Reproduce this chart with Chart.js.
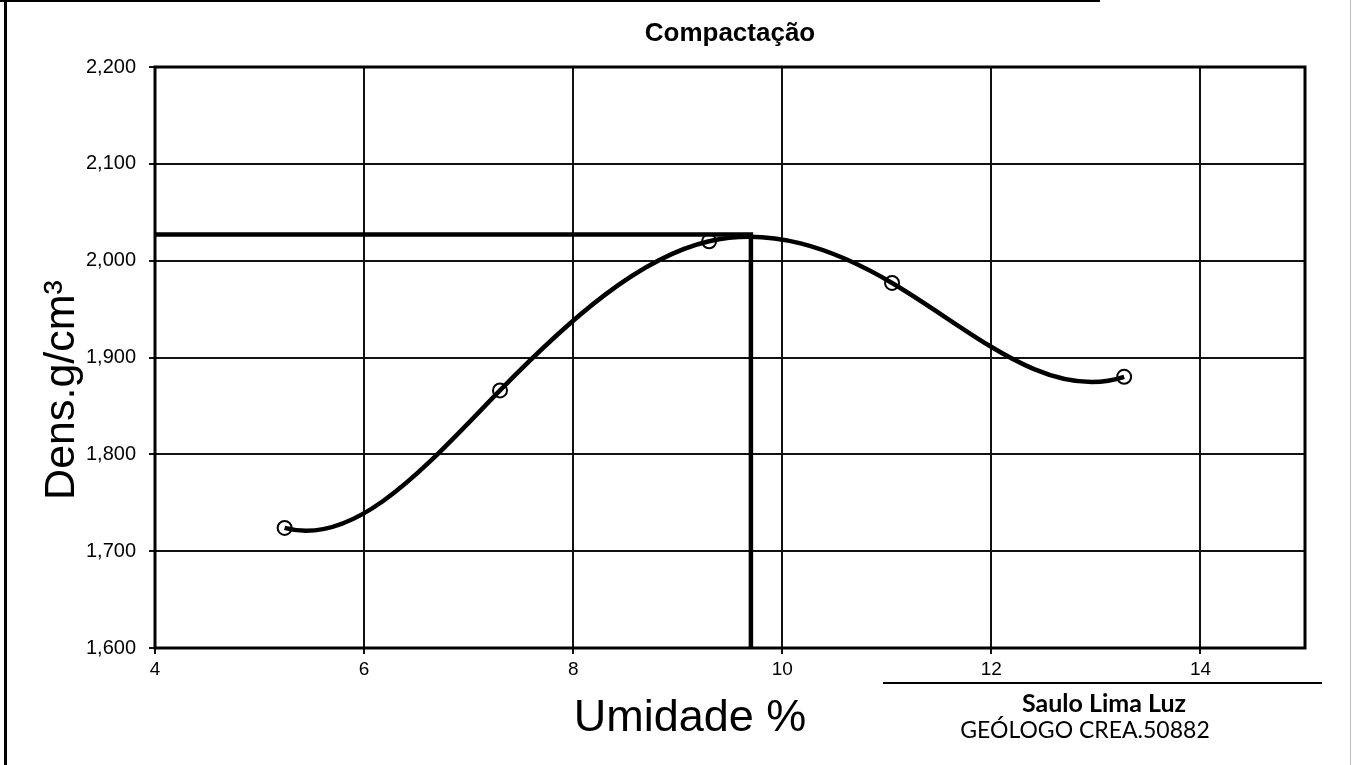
<!DOCTYPE html>
<html>
<head>
<meta charset="utf-8">
<script src="https://cdn.jsdelivr.net/npm/chart.js@4/dist/chart.umd.min.js"></script>
<style>
  html, body { margin: 0; padding: 0; background: #fff; }
  canvas { display: block; }
</style>
</head>
<body>
<canvas id="c" width="1352" height="765"></canvas>
<script>
// ---- data ----
const chartTitle = 'Compactação';
const xTitle = 'Umidade %';
const yTitle = 'Dens.g/cm³';
const signName = 'Saulo Lima Luz';
const signRole = 'GEÓLOGO CREA.50882';

const moisture = [5.24, 7.30, 9.30, 11.05, 13.27];      // Umidade %
const density  = [1.724, 1.866, 2.020, 1.977, 1.880];    // Dens. g/cm3

const optimumMoisture = 9.70;   // vertical marker
const maxDensity = 2.027;       // horizontal marker

const xMin = 4, xMax = 15, xStep = 2;
const yMin = 1.6, yMax = 2.2, yStep = 0.1;

const FONT = '"Liberation Sans", Arial, sans-serif';
const SIGN_FONT = 'Lato, "Open Sans", sans-serif';

const curvePoints = moisture.map((m, i) => ({ x: m, y: density[i] }));
const markerPoints = [
  { x: xMin, y: maxDensity },
  { x: optimumMoisture, y: maxDensity },
  { x: optimumMoisture, y: yMin }
];

// Smoothing: tangent at each data point taken from the polynomial that passes
// through all the points (like the spreadsheet's curve); Bezier handles set from it.
function newtonCoeffs(xs, ys) {
  const c = ys.slice(), n = xs.length;
  for (let j = 1; j < n; j++)
    for (let i = n - 1; i >= j; i--) c[i] = (c[i] - c[i - 1]) / (xs[i] - xs[i - j]);
  return c;
}
function polyEval(c, xs, x) {
  let r = c[c.length - 1];
  for (let i = c.length - 2; i >= 0; i--) r = r * (x - xs[i]) + c[i];
  return r;
}
function polySlope(c, xs, x) {
  const h = 1e-5;
  return (polyEval(c, xs, x + h) - polyEval(c, xs, x - h)) / (2 * h);
}

const smoothCurve = {
  id: 'smoothCurve',
  beforeDatasetDraw(chart, args) {
    if (args.index !== 0) return;
    const meta = args.meta;
    const line = meta.dataset;
    if (!line) return;
    line.updateControlPoints(chart.chartArea, 'x');
    const sx = chart.scales.x, sy = chart.scales.y;
    const pts = meta.data;
    const c = newtonCoeffs(moisture, density);
    const slopes = moisture.map(x => polySlope(c, moisture, x));
    const n = pts.length;
    for (let i = 0; i < n; i++) {
      if (i > 0) {
        const d = (moisture[i] - moisture[i - 1]) / 3;
        pts[i].cp1x = sx.getPixelForValue(moisture[i] - d);
        pts[i].cp1y = sy.getPixelForValue(density[i] - slopes[i] * d);
      }
      if (i < n - 1) {
        const d = (moisture[i + 1] - moisture[i]) / 3;
        pts[i].cp2x = sx.getPixelForValue(moisture[i] + d);
        pts[i].cp2y = sy.getPixelForValue(density[i] + slopes[i] * d);
      }
    }
    line._path = undefined;
  }
};

const decor = {
  id: 'decor',
  afterDraw(chart) {
    const { ctx, chartArea: a } = chart;
    ctx.save();
    // plot frame
    ctx.strokeStyle = '#000';
    ctx.lineWidth = 3;
    ctx.strokeRect(a.left, a.top, a.right - a.left, a.bottom - a.top);

    // page frame
    ctx.fillStyle = '#000';
    ctx.fillRect(4, 0, 3, 765);
    ctx.fillRect(0, 0, 1100, 2);
    ctx.fillStyle = '#bdbdbd';
    ctx.fillRect(1350, 0, 1, 765);

    ctx.fillStyle = '#000';
    ctx.textAlign = 'center';
    ctx.textBaseline = 'middle';
    // title
    ctx.font = 'bold 26px ' + FONT;
    ctx.fillText(chartTitle, (a.left + a.right) / 2, 34);

    // x title
    ctx.font = '45px ' + FONT;
    ctx.fillText(xTitle, 690, 719);

    // y title
    ctx.save();
    ctx.translate(62, 390);
    ctx.rotate(-Math.PI / 2);
    ctx.font = '43px ' + FONT;
    ctx.fillText(yTitle, 0, 0);
    ctx.restore();

    // signature
    ctx.fillRect(883, 682, 439, 2);
    ctx.font = 'bold 25px ' + SIGN_FONT;
    ctx.fillText(signName, 1104, 704);
    ctx.font = '23px ' + SIGN_FONT;
    ctx.fillText(signRole, 1085, 731);
    ctx.restore();
  }
};

new Chart(document.getElementById('c'), {
  type: 'scatter',
  data: {
    datasets: [
      {
        label: 'curve',
        data: curvePoints,
        showLine: true,
        tension: 0.4,
        borderColor: '#000',
        borderWidth: 4.5,
        pointRadius: 7,
        pointHoverRadius: 7,
        pointBorderWidth: 2,
        pointBorderColor: '#000',
        pointBackgroundColor: 'rgba(0,0,0,0)',
        order: 1
      },
      {
        label: 'max',
        data: markerPoints,
        showLine: true,
        tension: 0,
        borderColor: '#000',
        borderWidth: 4.5,
        pointRadius: 0,
        order: 2
      }
    ]
  },
  options: {
    responsive: false,
    animation: false,
    devicePixelRatio: 1,
    layout: { padding: { left: 0, top: 67, right: 47, bottom: 0 } },
    plugins: {
      legend: { display: false },
      title: { display: false },
      tooltip: { enabled: false }
    },
    scales: {
      x: {
        type: 'linear',
        min: xMin,
        max: xMax,
        afterFit(s) { s.height = 117; },
        border: { display: false },
        grid: { color: '#111', lineWidth: 2, tickLength: 6, drawTicks: true },
        ticks: {
          stepSize: xStep,
          includeBounds: false,
          color: '#000',
          padding: 4,
          maxRotation: 0,
          font: { family: FONT, size: 19 }
        }
      },
      y: {
        type: 'linear',
        min: yMin,
        max: yMax,
        afterFit(s) { s.width = 155; },
        border: { display: false },
        grid: { color: '#111', lineWidth: 2, tickLength: 6, drawTicks: true },
        ticks: {
          stepSize: yStep,
          color: '#000',
          padding: 13,
          font: { family: FONT, size: 20 },
          callback: v => v.toFixed(3).replace('.', ',')
        }
      }
    }
  },
  plugins: [smoothCurve, decor]
});
</script>
</body>
</html>
